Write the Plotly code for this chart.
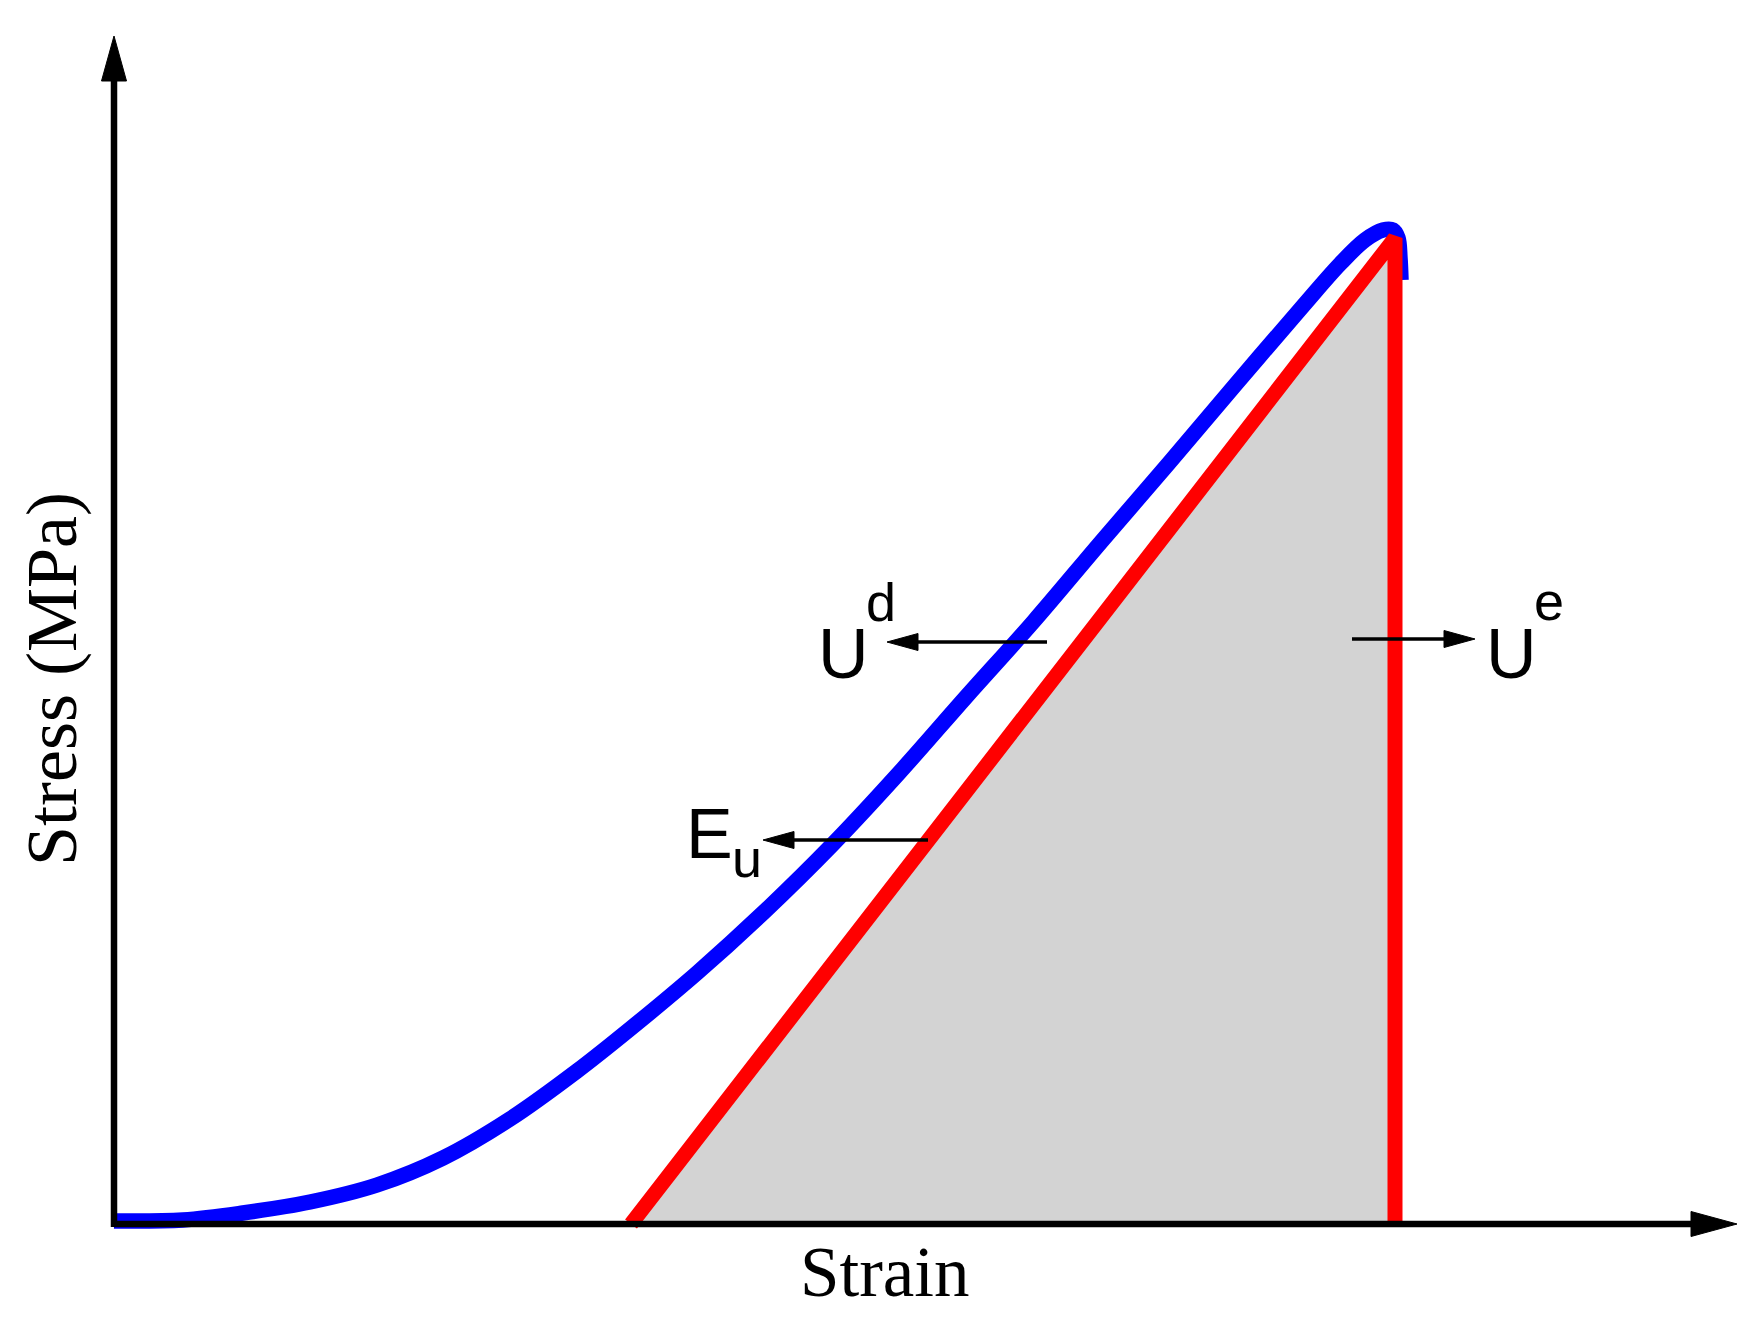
import plotly.graph_objects as go

# ---------------- data ----------------
# loading curve (blue)
strain_load = [0.00, 0.69, 1.29, 1.96, 2.63, 3.29, 3.96, 4.63, 5.16, 5.83, 6.50, 7.18,
               7.85, 8.52, 9.20, 9.87, 10.55, 11.22, 11.89, 12.26, 12.51, 12.69,
               12.79, 12.84, 12.86, 12.87]
stress_load = [0.3, 0.4, 1.1, 2.2, 3.9, 6.6, 10.5, 15.3, 19.5, 25.1, 31.2, 37.9,
               45.1, 52.7, 60.3, 68.2, 76.1, 84.0, 91.8, 96.0, 98.4, 99.4,
               99.4, 98.6, 96.6, 94.4]

# elastic unloading (red) and shaded elastic energy
strain_unload = [5.17, 12.81, 12.81]
stress_unload = [0.0, 98.6, 0.0]

# axis extents
strain_max = 16.23
stress_max = 118.8

# annotation arrows: (tail strain, tail stress, tip strain, tip stress)
arrow_tail_x = [9.33, 8.14, 12.38]
arrow_tail_y = [58.2, 38.4, 58.5]
arrow_tip_x = [7.73, 6.49, 13.61]
arrow_tip_y = [58.2, 38.4, 58.5]

# labels
main_labels = ["U", "E", "U"]
main_label_x = [7.02, 5.70, 13.70]
main_label_y = [57.0, 39.0, 57.0]
small_labels = ["d", "u", "e"]
small_label_x = [7.50, 6.16, 14.18]
small_label_y = [62.2, 36.6, 62.3]

x_title = "Strain"
y_title = "Stress (MPa)"

# ---------------- geometry ----------------
# page body has an 8px margin; the figure is placed at (8, 8)
OFF = 8
W, H = 1762 - 2 * OFF, 1329 - 2 * OFF
ORIGIN_PX = (114, 1224)          # page position of (0, 0)
PX_PER_X = (1737 - 114) / strain_max
PX_PER_Y = (1224 - 36) / stress_max
x_lo = -(ORIGIN_PX[0] - OFF) / PX_PER_X
x_hi = x_lo + W / PX_PER_X
y_hi = (ORIGIN_PX[1] - OFF) / PX_PER_Y
y_lo = y_hi - H / PX_PER_Y


def head(tip_x, tip_y, dir_x, dir_y, length_px, half_px):
    """Triangle arrowhead; direction given in pixel space (y up)."""
    bx = tip_x - dir_x * length_px / PX_PER_X
    by = tip_y - dir_y * length_px / PX_PER_Y
    nx, ny = -dir_y, dir_x
    xs = [tip_x, bx + nx * half_px / PX_PER_X, bx - nx * half_px / PX_PER_X, tip_x]
    ys = [tip_y, by + ny * half_px / PX_PER_Y, by - ny * half_px / PX_PER_Y, tip_y]
    return xs, ys, bx, by


fig = go.Figure()

# grey area
fig.add_trace(go.Scatter(x=strain_unload, y=stress_unload, mode="lines",
                         fill="toself", fillcolor="#D3D3D3",
                         line=dict(width=0, color="#D3D3D3"), hoverinfo="skip"))
# blue loading curve
fig.add_trace(go.Scatter(x=strain_load, y=stress_load, mode="lines",
                         line=dict(color="#0000FF", width=15.5, shape="spline", smoothing=1.0),
                         hoverinfo="skip"))
# red unloading line
fig.add_trace(go.Scatter(x=strain_unload, y=stress_unload, mode="lines",
                         line=dict(color="#FF0000", width=15), hoverinfo="skip"))

# axes with arrowheads
hx, hy, bx, by = head(strain_max, 0, 1, 0, 46, 12.5)
fig.add_trace(go.Scatter(x=[0, bx], y=[0, 0], mode="lines",
                         line=dict(color="black", width=6.5), hoverinfo="skip"))
fig.add_trace(go.Scatter(x=hx, y=hy, mode="lines", fill="toself", fillcolor="black",
                         line=dict(color="black", width=1), hoverinfo="skip"))
hx, hy, bx, by = head(0, stress_max, 0, 1, 45, 12.5)
fig.add_trace(go.Scatter(x=[0, 0], y=[-0.3, by], mode="lines",
                         line=dict(color="black", width=6.5), hoverinfo="skip"))
fig.add_trace(go.Scatter(x=hx, y=hy, mode="lines", fill="toself", fillcolor="black",
                         line=dict(color="black", width=1), hoverinfo="skip"))

# annotation arrows
for tx, ty, px, py in zip(arrow_tail_x, arrow_tail_y, arrow_tip_x, arrow_tip_y):
    dx = (px - tx) * PX_PER_X
    dy = (py - ty) * PX_PER_Y
    n = (dx * dx + dy * dy) ** 0.5
    hx, hy, bx, by = head(px, py, dx / n, dy / n, 31, 8.5)
    fig.add_trace(go.Scatter(x=[tx, bx], y=[ty, by], mode="lines",
                             line=dict(color="black", width=3.5), hoverinfo="skip"))
    fig.add_trace(go.Scatter(x=hx, y=hy, mode="lines", fill="toself", fillcolor="black",
                             line=dict(color="black", width=1), hoverinfo="skip"))

annotations = []
for t, x, y in zip(main_labels, main_label_x, main_label_y):
    annotations.append(dict(text=t, x=x, y=y, xref="x", yref="y", showarrow=False,
                            xanchor="left", yanchor="middle",
                            font=dict(family="Liberation Sans, Arial", size=70, color="black")))
for t, x, y in zip(small_labels, small_label_x, small_label_y):
    annotations.append(dict(text=t, x=x, y=y, xref="x", yref="y", showarrow=False,
                            xanchor="left", yanchor="middle",
                            font=dict(family="Liberation Sans, Arial", size=54, color="black")))
annotations.append(dict(text=x_title, x=7.71, y=-4.8, xref="x", yref="y", showarrow=False,
                        xanchor="center", yanchor="middle",
                        font=dict(family="Liberation Serif, Times New Roman", size=71,
                                  color="black")))
annotations.append(dict(text=y_title, x=-0.62, y=54.5, xref="x", yref="y", showarrow=False,
                        xanchor="center", yanchor="middle", textangle=-90,
                        font=dict(family="Liberation Serif, Times New Roman", size=72,
                                  color="black")))

fig.update_layout(
    width=W, height=H, autosize=False,
    margin=dict(l=0, r=0, t=0, b=0, pad=0),
    paper_bgcolor="white", plot_bgcolor="white",
    showlegend=False,
    xaxis=dict(range=[x_lo, x_hi], visible=False, fixedrange=True),
    yaxis=dict(range=[y_lo, y_hi], visible=False, fixedrange=True),
    annotations=annotations,
)

fig.write_html("out.html")
